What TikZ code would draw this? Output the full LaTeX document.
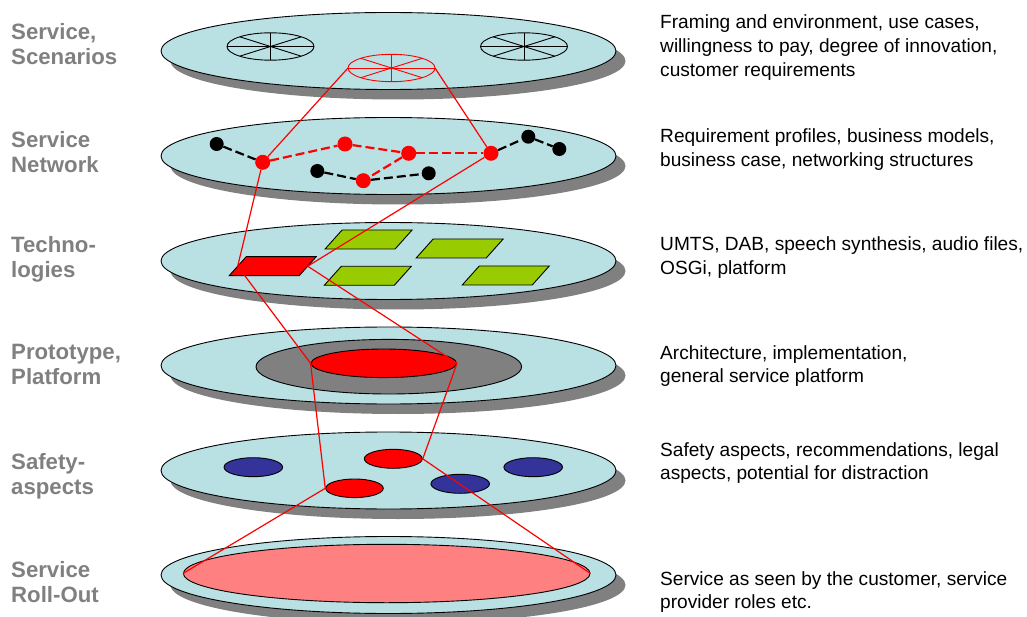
\documentclass[tikz,border=0pt]{standalone}
\usepackage{fontspec}
\setmainfont{Liberation Sans}
\usetikzlibrary{shapes.geometric,shadows}
\definecolor{discblue}{RGB}{185,224,227}
\definecolor{shadegray}{RGB}{128,128,128}
\definecolor{limegreen}{RGB}{153,204,0}
\definecolor{darkblue}{RGB}{51,51,153}
\definecolor{pinkred}{RGB}{255,128,128}
\definecolor{labelgray}{RGB}{128,128,128}
\begin{document}
\begin{tikzpicture}[x=1pt,y=-1pt,
  layerdisc/.style={ellipse, draw=black, line width=0.9pt, fill=discblue,
    minimum width=455pt, minimum height=77pt, inner sep=0pt,
    drop shadow={shadow xshift=9.5pt, shadow yshift=-10pt, fill=shadegray, opacity=1}},
  oval/.style={ellipse, draw=black, line width=0.9pt, inner sep=0pt},
  bdot/.style={circle, fill=black, minimum size=14pt, inner sep=0pt},
  rdot/.style={circle, fill=red, minimum size=15pt, inner sep=0pt},
  bdash/.style={draw=black, line width=2.2pt, dash pattern=on 9pt off 4pt},
  rdash/.style={draw=red, line width=2.2pt, dash pattern=on 9pt off 4pt},
  link/.style={draw=red, line width=1.2pt},
  leftlabel/.style={anchor=base west, inner sep=0pt, text=labelgray,
    font=\fontsize{22.2}{25}\selectfont\bfseries},
  righttext/.style={anchor=base west, inner sep=0pt, text=black,
    font=\fontsize{19.1}{23.9}\selectfont},
  wheel/.pic={
    \draw[line width=0.9pt] (0,0) ellipse [x radius=43.5pt, y radius=13.7pt];
    \foreach \a in {0,45,90,135}
      \draw[line width=0.9pt] ({43.5*cos(\a)},{13.7*sin(\a)}) -- ({-43.5*cos(\a)},{-13.7*sin(\a)});
    \coordinate (-w) at (-43.5,0);
    \coordinate (-e) at (43.5,0);
  },
  para/.pic={
    \draw[line width=0.9pt, fill=#1] (-43.5,9.5) -- (26.5,9.5) -- (43.5,-9.5) -- (-26.5,-9.5) -- cycle;
    \coordinate (-w) at (-35,0);
    \coordinate (-e) at (35,0);
  }
]
\useasboundingbox (0,0) rectangle (1027,617);

% ---------- layer discs ----------
\node[layerdisc] (L1) at (388.5,51) {};
\node[layerdisc] (L2) at (388.5,156) {};
\node[layerdisc] (L3) at (388.5,261) {};
\node[layerdisc] (L4) at (388.5,365.5) {};
\node[layerdisc] (L5) at (388.5,470.5) {};
\node[layerdisc] (L6) at (388.5,575) {};

% ---------- layer 1: scenarios ----------
\pic[draw=black] (w1) at (270.5,46.5) {wheel};
\pic[draw=black] (w2) at (524,46.5) {wheel};
\pic[draw=red] (w3) at (391.5,68) {wheel};

% ---------- layer 2: network ----------
\node[bdot] (b1) at (216.7,144) {};
\node[bdot] (b2) at (317.3,171) {};
\node[bdot] (b3) at (428.7,173.3) {};
\node[bdot] (b4) at (528.3,136.7) {};
\node[bdot] (b5) at (559.3,149) {};
\node[rdot] (rA) at (262.7,162.3) {};
\node[rdot] (rB) at (345,144) {};
\node[rdot] (rC) at (408.7,153.3) {};
\node[rdot] (rD) at (491,153.3) {};
\node[rdot] (rE) at (363.3,180.7) {};
\draw[bdash] (b1) -- (rA);
\draw[bdash] (b2) -- (rE);
\draw[bdash] (rE) -- (b3);
\draw[bdash] (rD) -- (b4);
\draw[bdash] (b4) -- (b5);
\draw[rdash] (rA) -- (rB);
\draw[rdash] (rB) -- (rC);
\draw[rdash] (rC) -- (rD);
\draw[rdash] (rC) -- (rE);

% ---------- layer 3: technologies ----------
\pic (g1) at (368.6,239.5) {para=limegreen};
\pic (g2) at (459.7,248.5) {para=limegreen};
\pic (g3) at (367.8,275.8) {para=limegreen};
\pic (g4) at (505.75,275.5) {para=limegreen};
\pic (p1) at (272.7,266.2) {para=red};

% ---------- layer 4: platform ----------
\node[oval, fill=shadegray, minimum width=265.6pt, minimum height=54.6pt] (ring) at (388.8,366.7) {};
\node[oval, fill=red, minimum width=145.6pt, minimum height=28.6pt] (core) at (383.8,363.3) {};

% ---------- layer 5: safety ----------
\node[oval, fill=darkblue, minimum width=58.6pt, minimum height=19pt] (s1) at (253.3,467.2) {};
\node[oval, fill=darkblue, minimum width=58.6pt, minimum height=19pt] (s2) at (533.2,467.2) {};
\node[oval, fill=darkblue, minimum width=58.6pt, minimum height=19pt] (s3) at (460.2,483.8) {};
\node[oval, fill=red, minimum width=58pt, minimum height=19pt] (s4) at (393.3,458.8) {};
\node[oval, fill=red, minimum width=57.6pt, minimum height=18.6pt] (s5) at (354.5,488.3) {};

% ---------- layer 6: roll-out ----------
\node[oval, fill=pinkred, minimum width=406.6pt, minimum height=58.4pt] (roll) at (386.7,573.5) {};

% ---------- red funnel links ----------
\draw[link] (w3-w) -- (rA);
\draw[link] (w3-e) -- (rD);
\draw[link] (rA) -- (p1-w);
\draw[link] (rD) -- (p1-e);
\draw[link] (p1-w) -- (core.west);
\draw[link] (p1-e) -- (core.east);
\draw[link] (core.west) -- (s5.west);
\draw[link] (core.east) -- (s4.east);
\draw[link] (s5.west) -- (roll.west);
\draw[link] (s4.east) -- (roll.east);

% ---------- left labels ----------
\node[leftlabel] (t1) at (11,39.3) {\begin{tabular}[t]{@{}l@{}}Service,\\Scenarios\end{tabular}};
\node[leftlabel] (t2) at (11,148) {\begin{tabular}[t]{@{}l@{}}Service\\Network\end{tabular}};
\node[leftlabel] (t3) at (11,253) {\begin{tabular}[t]{@{}l@{}}Techno-\\logies\end{tabular}};
\node[leftlabel] (t4) at (11,359.3) {\begin{tabular}[t]{@{}l@{}}Prototype,\\Platform\end{tabular}};
\node[leftlabel] (t5) at (11,469) {\begin{tabular}[t]{@{}l@{}}Safety-\\aspects\end{tabular}};
\node[leftlabel] (t6) at (11,577) {\begin{tabular}[t]{@{}l@{}}Service\\Roll-Out\end{tabular}};

% ---------- right descriptions ----------
\node[righttext] (d1) at (660,29) {\begin{tabular}[t]{@{}l@{}}Framing and environment, use cases,\\willingness to pay, degree of innovation,\\customer requirements\end{tabular}};
\node[righttext] (d2) at (660,143) {\begin{tabular}[t]{@{}l@{}}Requirement profiles, business models,\\business case, networking structures\end{tabular}};
\node[righttext] (d3) at (660,251) {\begin{tabular}[t]{@{}l@{}}UMTS, DAB, speech synthesis, audio files,\\OSGi, platform\end{tabular}};
\node[righttext] (d4) at (660,359) {\begin{tabular}[t]{@{}l@{}}Architecture, implementation,\\general service platform\end{tabular}};
\node[righttext] (d5) at (660,456) {\begin{tabular}[t]{@{}l@{}}Safety aspects, recommendations, legal\\aspects, potential for distraction\end{tabular}};
\node[righttext] (d6) at (660,585) {\begin{tabular}[t]{@{}l@{}}Service as seen by the customer, service\\provider roles etc.\end{tabular}};
\end{tikzpicture}
\end{document}
